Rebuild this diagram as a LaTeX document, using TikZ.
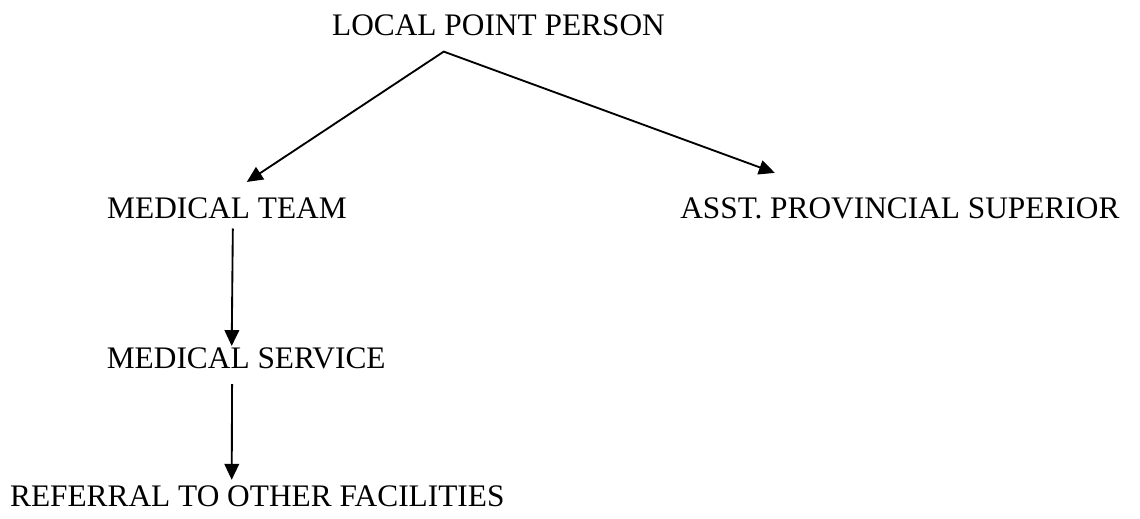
\documentclass[tikz,border=0pt]{standalone}
\usepackage{fontspec}
\setmainfont{Liberation Serif}
\usetikzlibrary{positioning,calc,arrows.meta}

\begin{document}
\begin{tikzpicture}[
    every node/.style={font=\fontsize{23.6}{28}\selectfont, inner sep=0pt, text=black, anchor=base west},
    flow/.style={line width=1.4pt, >={Triangle[length=12pt,width=11pt]}}]

    \useasboundingbox (0,0) rectangle (30.16,-13.73);

    %top
    \node (lpp) at (8.78,-0.95) {LOCAL POINT PERSON};

    %second level
    \node (mt) at (2.83,-5.79) {MEDICAL TEAM};
    \node (aps) at (17.99,-5.79) {ASST. PROVINCIAL SUPERIOR};

    %lower chain
    \node (ms) at (2.82,-9.74) {MEDICAL SERVICE};
    \node (ref) at (0.26,-13.41) {REFERRAL TO OTHER FACILITIES};

    \coordinate (split) at ($(lpp.south west)+(2.96,-0.40)$);

    %split below the point person
    \draw[flow, <->] ($(mt.north west)+(3.70,0.42)$) -- (split) -- ($(aps.north west)+(2.51,0.66)$);

    \path[flow, ->]
        ($(mt.south west)+(3.33,-0.24)$) edge ($(ms.north west)+(3.31,0.03)$)
        ($(ms.south west)+(3.32,-0.40)$) edge ($(ref.north west)+(5.87,0.16)$)
        ;
\end{tikzpicture}
\end{document}
